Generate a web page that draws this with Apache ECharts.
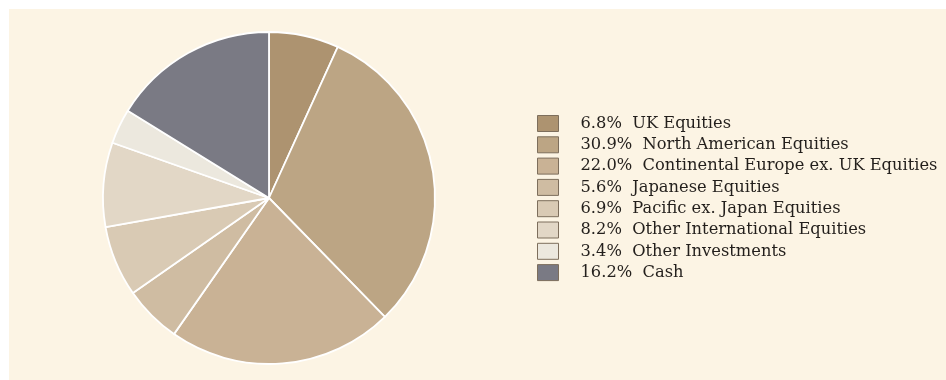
<!DOCTYPE html>
<html><head><meta charset="utf-8">
<script src="https://cdn.jsdelivr.net/npm/echarts@6/dist/echarts.min.js"></script>
<style>html,body{margin:0;padding:0;background:#fff}#c{width:946px;height:380px}</style>
</head><body><div id="c"></div>
<script>
const categories = ["UK Equities","North American Equities","Continental Europe ex. UK Equities","Japanese Equities","Pacific ex. Japan Equities","Other International Equities","Other Investments","Cash"];
const values = [6.8,30.9,22.0,5.6,6.9,8.2,3.4,16.2];
const colors = ["#AD9370","#BCA584","#C9B295","#CFBCA2","#D9CAB4","#E2D7C6","#ECE8DE","#7A7A84"];

const chart = echarts.init(document.getElementById('c'));
const lookup = {};
categories.forEach((c,i)=>lookup[c]=values[i]);
chart.setOption({
  animation:false,
  graphic:[{type:'rect',left:9,top:9,shape:{width:937,height:371},style:{fill:'#FCF4E4'},z:-10}],
  legend:{
    orient:'vertical', left:532, top:110,
    itemWidth:21, itemHeight:16, itemGap:4.3,
    icon:'rect',
    itemStyle:{borderColor:'#7d6e5c',borderWidth:1},
    textStyle:{fontFamily:'DejaVu Serif',fontSize:16.3,lineHeight:16,color:'#231f1c',padding:[0,0,0,17]},
    formatter:n=>lookup[n].toFixed(1)+'%  '+n,
    data:categories
  },
  series:[{
    type:'pie', center:[269,198], radius:166, startAngle:90, clockwise:true,
    label:{show:false}, labelLine:{show:false},
    itemStyle:{borderColor:'#ffffff',borderWidth:1.8},
    emphasis:{disabled:true},
    data:categories.map((c,i)=>({name:c,value:values[i],itemStyle:{color:colors[i]}}))
  }]
});
</script></body></html>
